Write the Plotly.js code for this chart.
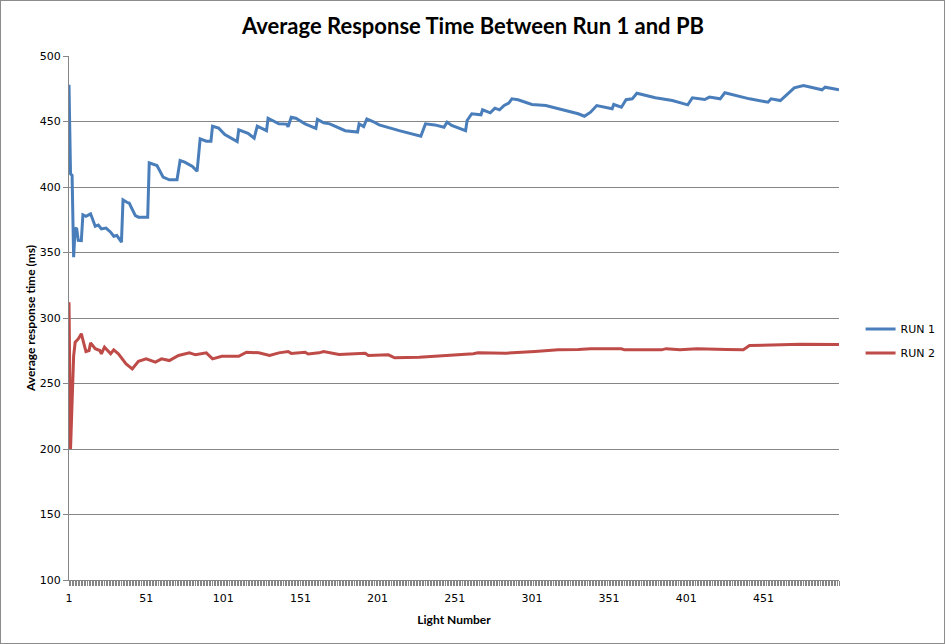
<!DOCTYPE html>
<html>
<head>
<meta charset="utf-8">
<script src="https://cdn.plot.ly/plotly-3.0.1.min.js"></script>
<style>
  body { margin: 0; padding: 0; background: #fff; overflow: hidden; }
  #frame { width: 943px; height: 642px; border: 1px solid #8c8c8c; overflow: hidden; }
  #my_plot { width: 970px; height: 642px; }
</style>
</head>
<body>
<div id="frame"><div id="my_plot"></div></div>
<script>
// light number / average response time (ms) at the corners
run1_x = [1, 2, 3, 4, 5, 6, 7, 9, 10, 12, 15, 18, 20, 22, 25, 28, 30, 32, 35, 36,
    39, 40, 44, 46, 52, 53, 58, 62, 66, 71, 73, 76, 81, 84, 86, 90, 93, 94, 98, 102,
    110, 111, 117, 121, 123, 129, 130, 137, 142, 143, 145, 148, 154, 161, 162, 166, 170, 180, 188, 189,
    192, 194, 198, 202, 215, 229, 232, 238, 244, 246, 249, 258, 259, 262, 268, 269, 274, 277, 280, 283,
    286, 288, 292, 301, 310, 322, 331, 335, 339, 343, 353, 354, 359, 362, 366, 369, 381, 392, 402, 405,
    413, 416, 423, 426, 442, 454, 456, 462, 467, 471, 477, 489, 491, 500];
run1_y = [478, 410, 408.8, 346.4, 368.8, 368, 359.2, 359, 378.8, 377.6, 379.5, 370, 371, 368, 368.6, 365.5, 362.4, 363, 357.9, 390.2,
    388, 387.7, 378.2, 377, 377, 418.5, 416.4, 407.5, 405.5, 405.5, 420.2, 419, 415.6, 412, 436.8, 435, 435, 446.4, 444.9, 440,
    434.7, 443.6, 441, 437.3, 446.4, 443, 452.5, 448.2, 448, 446, 453.3, 452.5, 448.2, 444.8, 451.6, 449, 448.2, 443, 441.9, 448.2,
    446.2, 452, 450, 447.4, 443, 438.8, 448.2, 447.4, 445.6, 449.5, 447, 443, 450.8, 455.9, 455.1, 458.9, 456.6, 460.2, 458.9, 462.2,
    464, 467.3, 466.6, 463, 462.2, 458.4, 455.9, 454, 457.1, 462.2, 459.7, 463, 460.9, 466.6, 467.3, 471.6, 468.1, 466, 462.7, 468.1,
    466.8, 468.6, 467.3, 471.9, 467.3, 464.7, 467.3, 466, 471.1, 475.7, 477.5, 474.2, 476.2, 474.2];

run2_x = [1, 2, 4, 5, 7, 9, 10, 12, 14, 15, 18, 21, 22, 24, 28, 30, 33, 38, 42, 46,
    51, 57, 61, 66, 72, 79, 83, 90, 94, 100, 111, 116, 124, 131, 137, 143, 145, 154, 156, 163,
    166, 176, 193, 195, 208, 212, 228, 247, 263, 266, 284, 303, 318, 331, 339, 359, 361, 385, 388, 397,
    408, 427, 438, 442, 473, 475, 500];
run2_y = [312, 200, 271, 281.5, 284, 288, 283.3, 274.4, 275.2, 281, 276.5, 275.2, 272.7, 277.7, 272.7, 275.7, 272.7, 265, 261.2, 267,
    268.8, 266.3, 268.8, 267.5, 271.4, 273.4, 271.9, 273.4, 268.8, 270.8, 270.8, 273.9, 273.4, 271.4, 273.4, 274.4, 273, 273.9, 272.5, 273.4,
    274.4, 272.1, 273.1, 271.4, 271.9, 269.6, 270.1, 271.4, 272.7, 273.4, 273.1, 274.4, 275.7, 276, 276.5, 276.5, 275.7, 275.7, 276.6, 275.7,
    276.5, 276, 275.7, 279, 279.5, 280, 279.8];

series_names = ["RUN 1", "RUN 2"];
series_colors = ["#4a7ebb", "#be4b48"];

var tick_font = { family: "DejaVu Sans, Verdana, sans-serif", size: 11, color: "#000" };

var data = [
    {
        name: series_names[0],
        legendgroup: "a",
        type: "scatter",
        mode: "lines",
        x: run1_x,
        y: run1_y,
        line: { color: series_colors[0], width: 3 },
    },
    {
        name: series_names[1],
        legendgroup: "b",
        type: "scatter",
        mode: "lines",
        x: run2_x,
        y: run2_y,
        line: { color: series_colors[1], width: 3 },
    },
];

// figure is a bit wider than the frame so the legend never pushes the plot area
var layout = {
    width: 970,
    height: 642,
    margin: { l: 68, r: 132, t: 55, b: 63 },
    paper_bgcolor: "#fff",
    plot_bgcolor: "#fff",
    hovermode: false,
    title: {
        text: "Average Response Time Between Run 1 and PB",
        font: { family: "Lato, sans-serif", size: 22, weight: "bold", color: "#000" },
        x: 472 / 970,
        xanchor: "center",
        y: 0.96,
        yanchor: "middle",
    },
    xaxis: {
        range: [1, 500],
        tickmode: "linear",
        tick0: 1,
        dtick: 50,
        ticks: "outside",
        ticklen: 5,
        tickcolor: "#868686",
        ticklabelstandoff: 3,
        showgrid: false,
        showline: true,
        linecolor: "#868686",
        zeroline: false,
        tickfont: tick_font,
        minor: { tickmode: "linear", tick0: 1, dtick: 1, ticks: "outside", ticklen: 5, tickcolor: "#868686" },
        title: {
            text: "Light Number",
            font: { family: "Lato, sans-serif", size: 12, weight: "bold", color: "#000" },
            standoff: 11,
        },
    },
    yaxis: {
        range: [100, 500],
        tickmode: "linear",
        dtick: 50,
        ticks: "outside",
        ticklen: 5,
        tickcolor: "#868686",
        showgrid: true,
        gridcolor: "#868686",
        gridwidth: 1,
        showline: true,
        linecolor: "#868686",
        zeroline: false,
        tickfont: tick_font,
        title: {
            text: "Average response time (ms)",
            font: { family: "Lato, sans-serif", size: 12, weight: "bold", color: "#000" },
        },
    },
    showlegend: true,
    legend: {
        x: 1.028,
        xanchor: "left",
        y: 0.456,
        yanchor: "middle",
        font: tick_font,
        itemwidth: 30,
        tracegroupgap: 5,
        bgcolor: "rgba(0,0,0,0)",
    },
};

Plotly.newPlot("my_plot", data, layout, { displayModeBar: false, staticPlot: true });
</script>
</body>
</html>
